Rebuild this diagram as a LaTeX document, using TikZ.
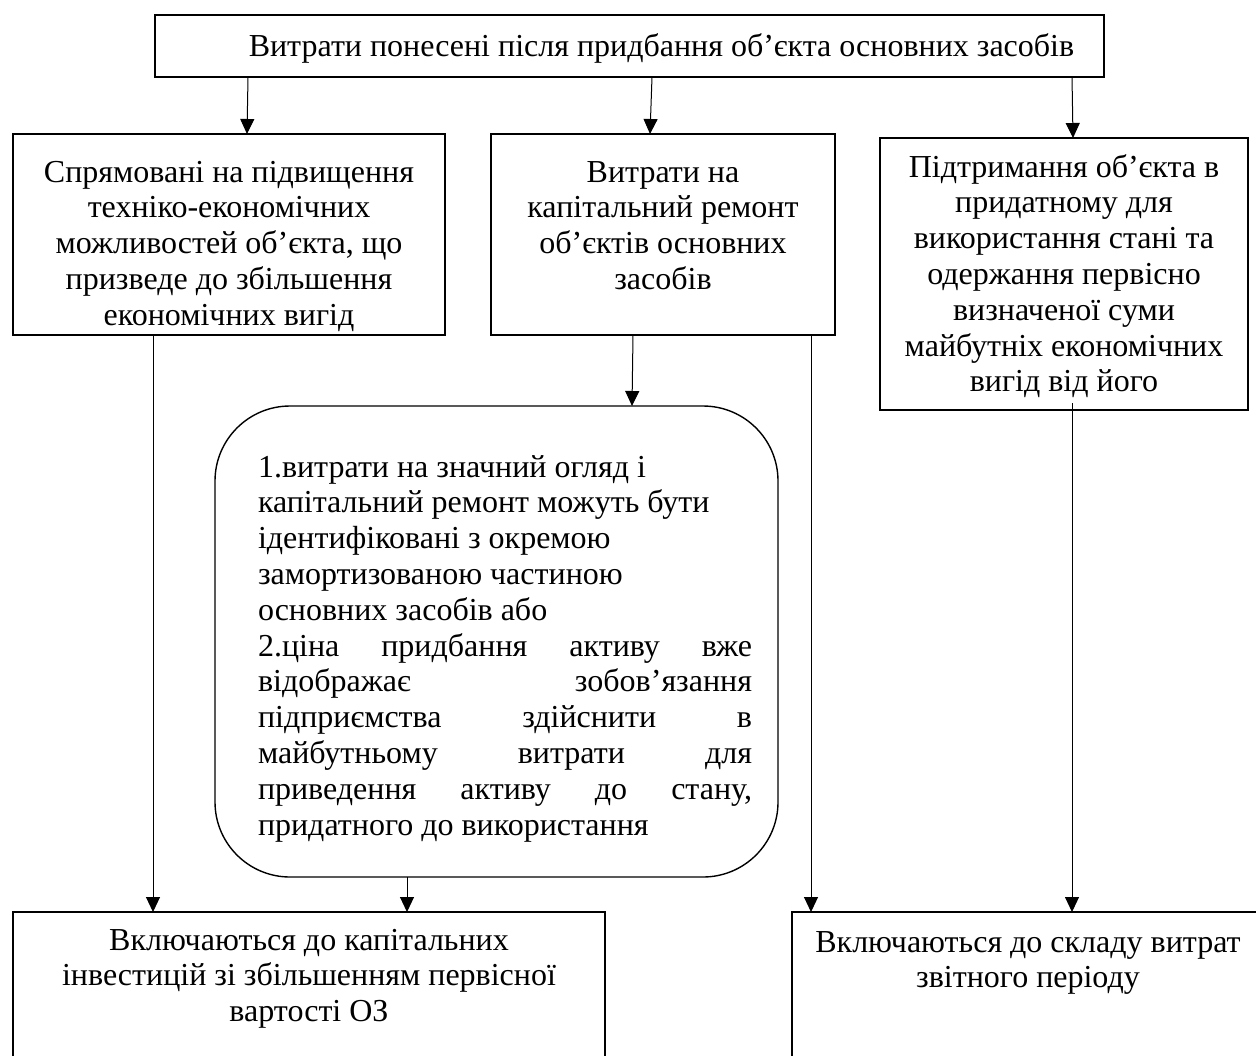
\documentclass[tikz,border=0pt]{standalone}
\usepackage{fontspec}
\setmainfont{Liberation Serif}
\usetikzlibrary{arrows.meta}
\newcommand\mkbox[4]{\parbox[c][#2][t]{#1}{\centering\rule{0pt}{#3}#4\par}}
\begin{document}
\begin{tikzpicture}[x=0.5pt,y=-0.5pt,
  every node/.style={font=\fontsize{16pt}{17.9pt}\selectfont},
  box/.style={draw,line width=0.7pt,inner sep=0pt,outer sep=0pt,anchor=north west},
  arr/.style={line width=0.5pt,-{Triangle[width=7pt,length=7.5pt]}}]
\clip (0,0) rectangle (1256,1055);
\node[box] (top) at (155,15) {\mkbox{474.5pt}{31pt}{20.5pt}{\hspace*{32pt}Витрати понесені після придбання об’єкта основних засобів}};
\node[box] (b1) at (13,134) {\mkbox{216pt}{100.5pt}{24pt}{Спрямовані на підвищення\\техніко-економічних\\можливостей об’єкта, що\\призведе до збільшення\\економічних вигід}};
\node[box] (b2) at (491,134) {\mkbox{172pt}{100.5pt}{24pt}{Витрати на\\капітальний ремонт\\об’єктів основних\\засобів}};
\node[box] (b3) at (880,138) {\mkbox{184pt}{136pt}{19.5pt}{Підтримання об’єкта в\\придатному для\\використання стані та\\одержання первісно\\визначеної суми\\майбутніх економічних\\вигід від його}};
\node[box,rounded corners=37.5pt] (r) at (215,406) {\parbox[c][235.5pt][t]{281.5pt}{\hspace*{21.5pt}\parbox[t]{247pt}{\rule{0pt}{35.5pt}1.витрати на значний огляд і\\
капітальний ремонт можуть бути\\
ідентифіковані з окремою\\
замортизованою частиною\\
основних засобів або\\
2.ціна\hfill придбання\hfill активу\hfill вже\\
відображає\hfill зобов’язання\\
підприємства\hfill здійснити\hfill в\\
майбутньому\hfill витрати\hfill для\\
приведення\hfill активу\hfill до\hfill стану,\\
придатного до використання}}};
\node[box] (c1) at (13,912) {\mkbox{296pt}{80pt}{19pt}{Включаються до капітальних\\інвестицій зі збільшенням первісної\\вартості ОЗ}};
\node[box] (c2) at (792,912) {\mkbox{236pt}{80pt}{20pt}{Включаються до складу витрат\\звітного періоду}};
\draw[arr] (top.south -| 248,0) -- (b1.north -| 247,0);
\draw[arr] (top.south -| 652,0) -- (b2.north -| 650,0);
\draw[arr] (top.south -| 1072,0) -- (b3.north -| 1073,0);
\draw[arr] (b1.south -| 153,0) -- (c1.north -| 153,0);
\draw[arr] (b2.south -| 633,0) -- (r.north -| 632,0);
\draw[arr] (r.south -| 407,0) -- (c1.north -| 407,0);
\draw[arr] (b2.south -| 811,0) -- (c2.north -| 811,0);
\draw[arr,shorten <=-3.5pt] (b3.south -| 1072,0) -- (c2.north -| 1072,0);
\end{tikzpicture}
\end{document}
